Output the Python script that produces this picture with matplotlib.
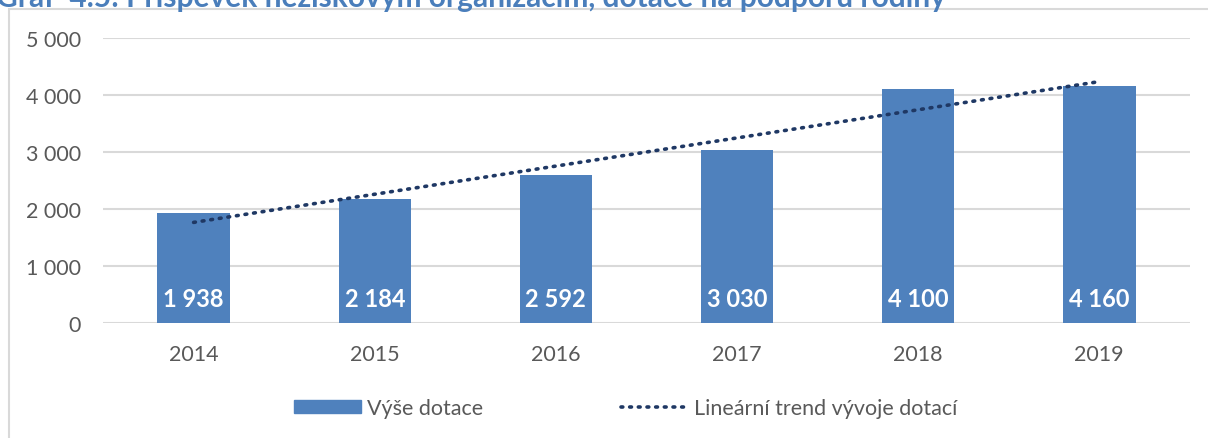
import matplotlib.pyplot as plt
from matplotlib.patches import Patch, Rectangle
from matplotlib.lines import Line2D
import numpy as np

years = ['2014', '2015', '2016', '2017', '2018', '2019']
dotace = [1938, 2184, 2592, 3030, 4100, 4160]
yticks = [0, 1000, 2000, 3000, 4000, 5000]

bar_color = '#4F81BD'
trend_color = '#1F3864'
grid_color = '#D9D9D9'
text_color = '#595959'

plt.rcParams['font.family'] = ['Lato', 'DejaVu Sans']

fig = plt.figure(figsize=(12.08, 4.39), dpi=100)
ax = fig.add_axes([0.0853, 0.262, 0.8997, 0.649])

x = np.arange(len(years))
ax.bar(x, dotace, width=0.4, color=bar_color, zorder=3)

# linearni trend
k, q = np.polyfit(x, dotace, 1)
ax.plot(x, k * x + q, color=trend_color, linewidth=2.6,
        linestyle=(0, (0.5, 1.9)), dash_capstyle='round', zorder=4)

for xi, v in zip(x, dotace):
    ax.text(xi, 430, f'{v:,}'.replace(',', ' '), ha='center', va='center',
            color='white', fontsize=17, fontweight='bold', zorder=5)

ax.set_xlim(-0.5, 5.5)
ax.set_ylim(0, 5000)
ax.set_xticks(x)
ax.set_xticklabels(years)
ax.set_yticks(yticks)
ax.set_yticklabels([f'{t:,}'.replace(',', ' ') for t in yticks])
ax.tick_params(length=0, labelsize=15.5, colors=text_color)
ax.tick_params(axis='y', pad=16)
ax.tick_params(axis='x', pad=15)
ax.grid(axis='y', color=grid_color, linewidth=1.5, zorder=0)
for s in ax.spines.values():
    s.set_visible(False)

# ramecek grafu
fig.patches.append(Rectangle((9 / 1208, -0.1), 1.1, 1 - 10 / 439 + 0.1,
                             transform=fig.transFigure, fill=False,
                             edgecolor=grid_color, linewidth=1.5))

fig.text(-0.003, 1 - 7 / 439,
         'Graf  4.5: Příspěvek neziskovým organizacím, dotace na podporu rodiny',
         color='#4A7EBB', fontsize=21.5, fontweight='bold', va='baseline', ha='left')

handles = [Patch(color=bar_color),
           Line2D([0], [0], color=trend_color, linewidth=2.6,
                  linestyle=(0, (0.5, 1.9)), dash_capstyle='round')]
fig.legend(handles, ['Výše dotace', 'Lineární trend vývoje dotací'],
           loc='center', bbox_to_anchor=(0.518, 1 - 409 / 439), ncol=2,
           frameon=False, fontsize=15.5, labelcolor=text_color,
           handlelength=3.1, handleheight=0.55, handletextpad=0.3,
           columnspacing=6.4)

fig.savefig('out.png', dpi=100)
